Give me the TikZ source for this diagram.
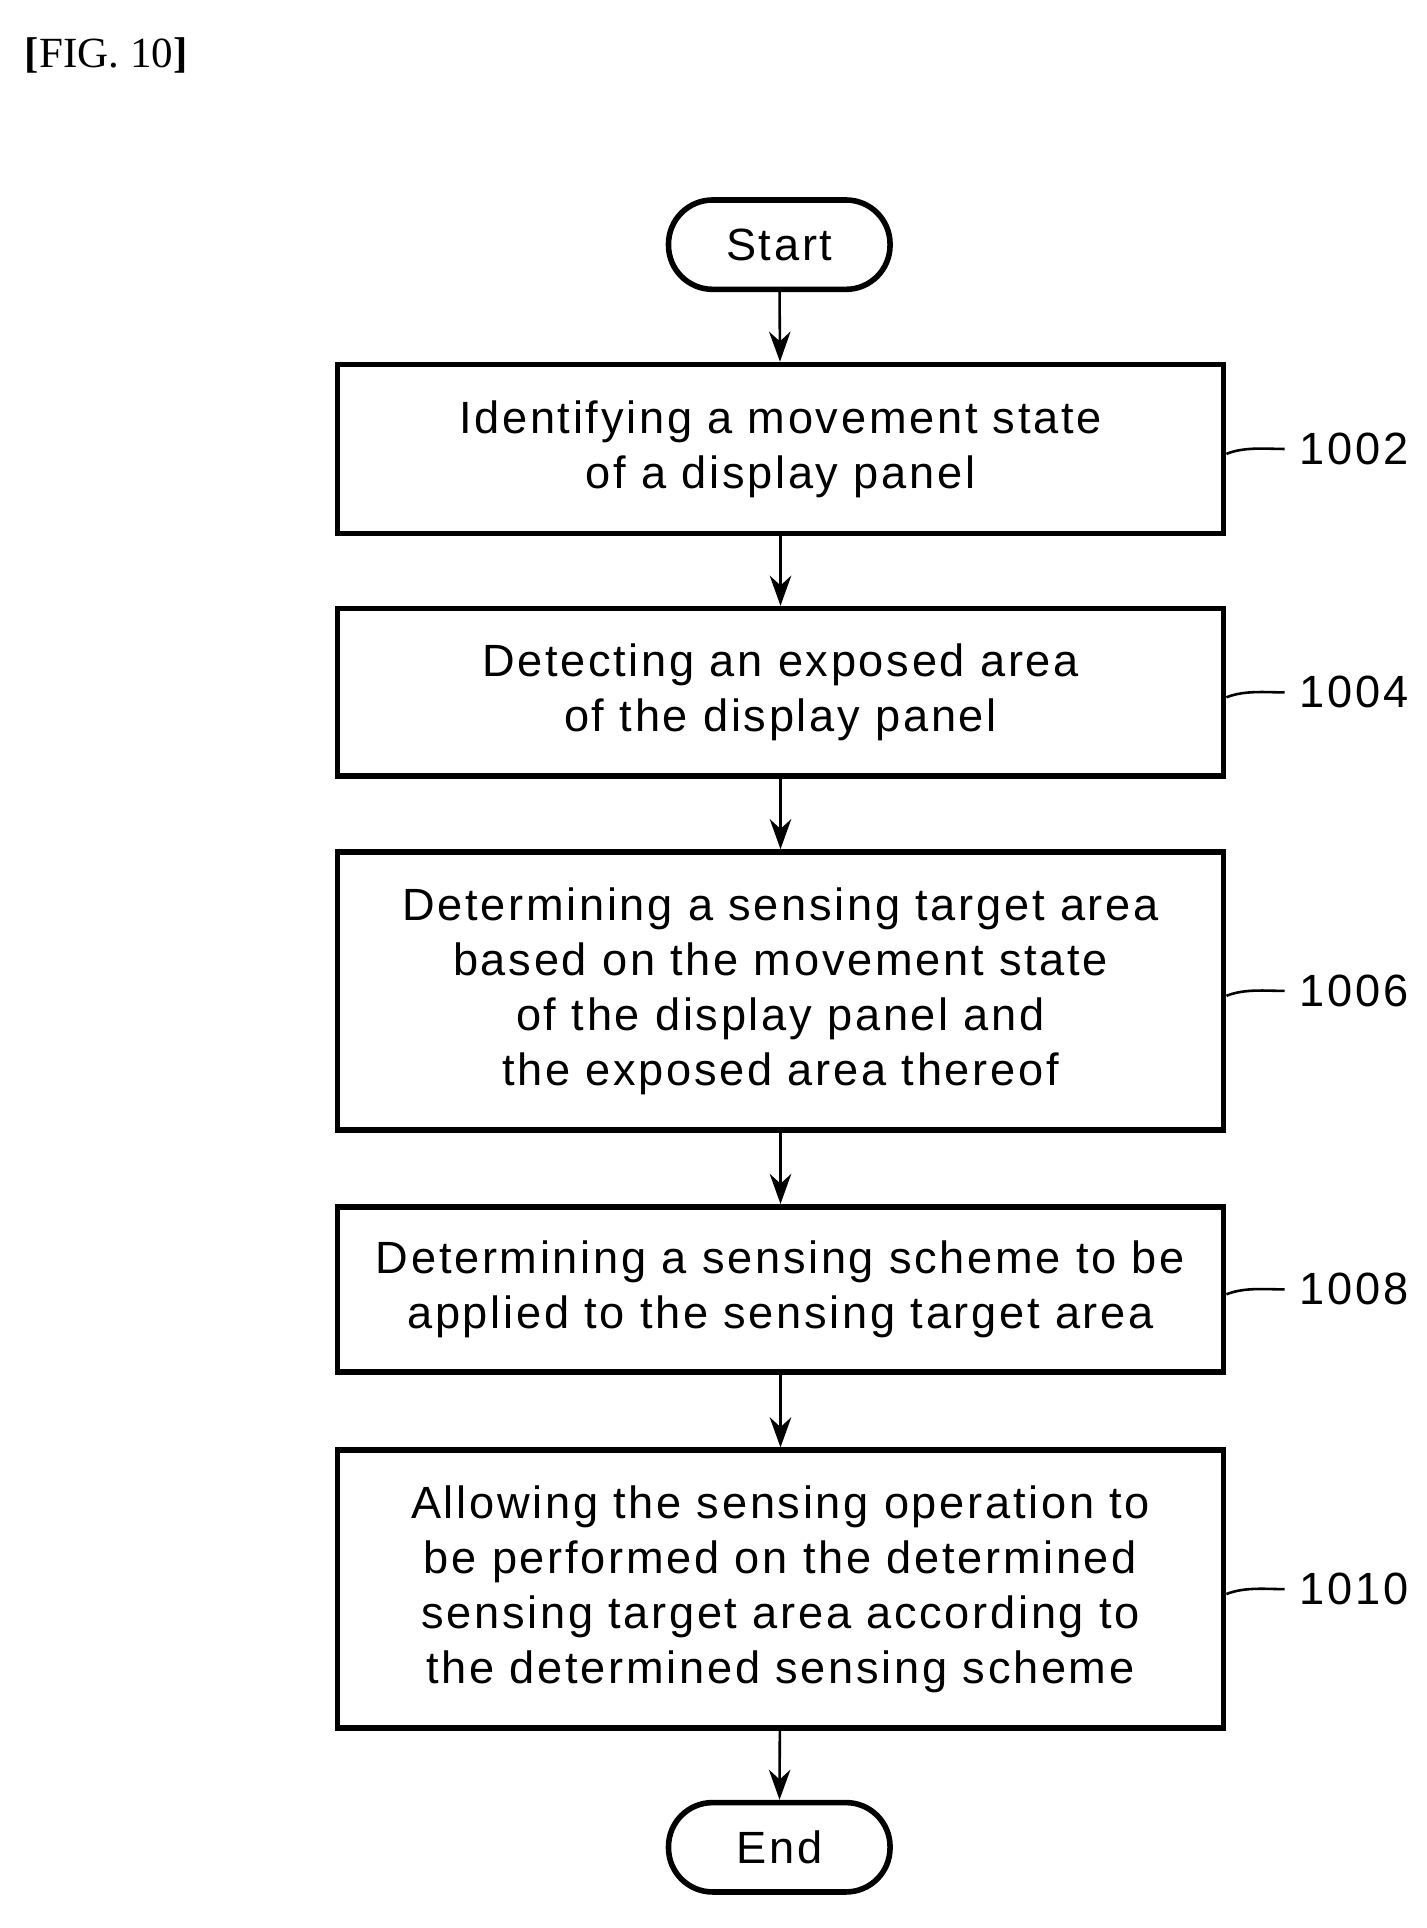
\documentclass[tikz,border=0pt]{standalone}
\usepackage{fontspec}
\setmainfont{Liberation Sans}[LetterSpace=6]
\newfontfamily\serifhead{Liberation Serif}
\usetikzlibrary{arrows.meta}
\begin{document}
\begin{tikzpicture}[x=0.01cm,y=-0.01cm,
  box/.style={draw,line width=1.3pt,minimum width=7.24cm,align=center,font=\fontsize{10.5}{12.8}\selectfont},
  term/.style={draw,line width=1.3pt,rounded corners=0.36cm,minimum width=1.81cm,minimum height=0.73cm,font=\fontsize{10.5}{12.8}\selectfont},
  arr/.style={-{Stealth[length=7pt,width=5pt]},line width=0.6pt},
  lab/.style={font=\fontsize{10.5}{12}\selectfont,anchor=west},
  tick/.style={line width=0.6pt}]
\useasboundingbox (0,0) rectangle (1166,1576);
\node[anchor=north west,font=\serifhead\fontsize{10}{12}\selectfont] (fig) at (8,18) {\textbf{[}FIG. 10\textbf{]}};
\node[term] (s) at (637,200) {Start};
\node[box,minimum height=1.38cm] (b1) at (638,367) {Identifying a movement state\\of a display panel};
\node[box,minimum height=1.37cm] (b2) at (638,566) {Detecting an exposed area\\of the display panel};
\node[box,minimum height=2.27cm] (b3) at (638,810) {Determining a sensing target area\\based on the movement state\\of the display panel and\\the exposed area thereof};
\node[box,minimum height=1.35cm] (b4) at (638,1054) {Determining a sensing scheme to be\\applied to the sensing target area};
\node[box,minimum height=2.27cm] (b5) at (638,1299) {Allowing the sensing operation to\\be performed on the determined\\sensing target area according to\\the determined sensing scheme};
\node[term] (e) at (637,1510) {End};
\draw[arr] (s) -- (b1);
\draw[arr] (b1) -- (b2);
\draw[arr] (b2) -- (b3);
\draw[arr] (b3) -- (b4);
\draw[arr] (b4) -- (b5);
\draw[arr] (b5) -- (e);
\foreach \b/\t/\y in {b1/1002/367,b2/1004/566,b3/1006/810,b4/1008/1054,b5/1010/1299}{
  \node[lab] (l\t) at (1050,\y) {\t};
  \draw[tick] (\b.east) ++(0,4) .. controls +(15,-6) and +(-15,0) .. (l\t.west);
}
\end{tikzpicture}
\end{document}
